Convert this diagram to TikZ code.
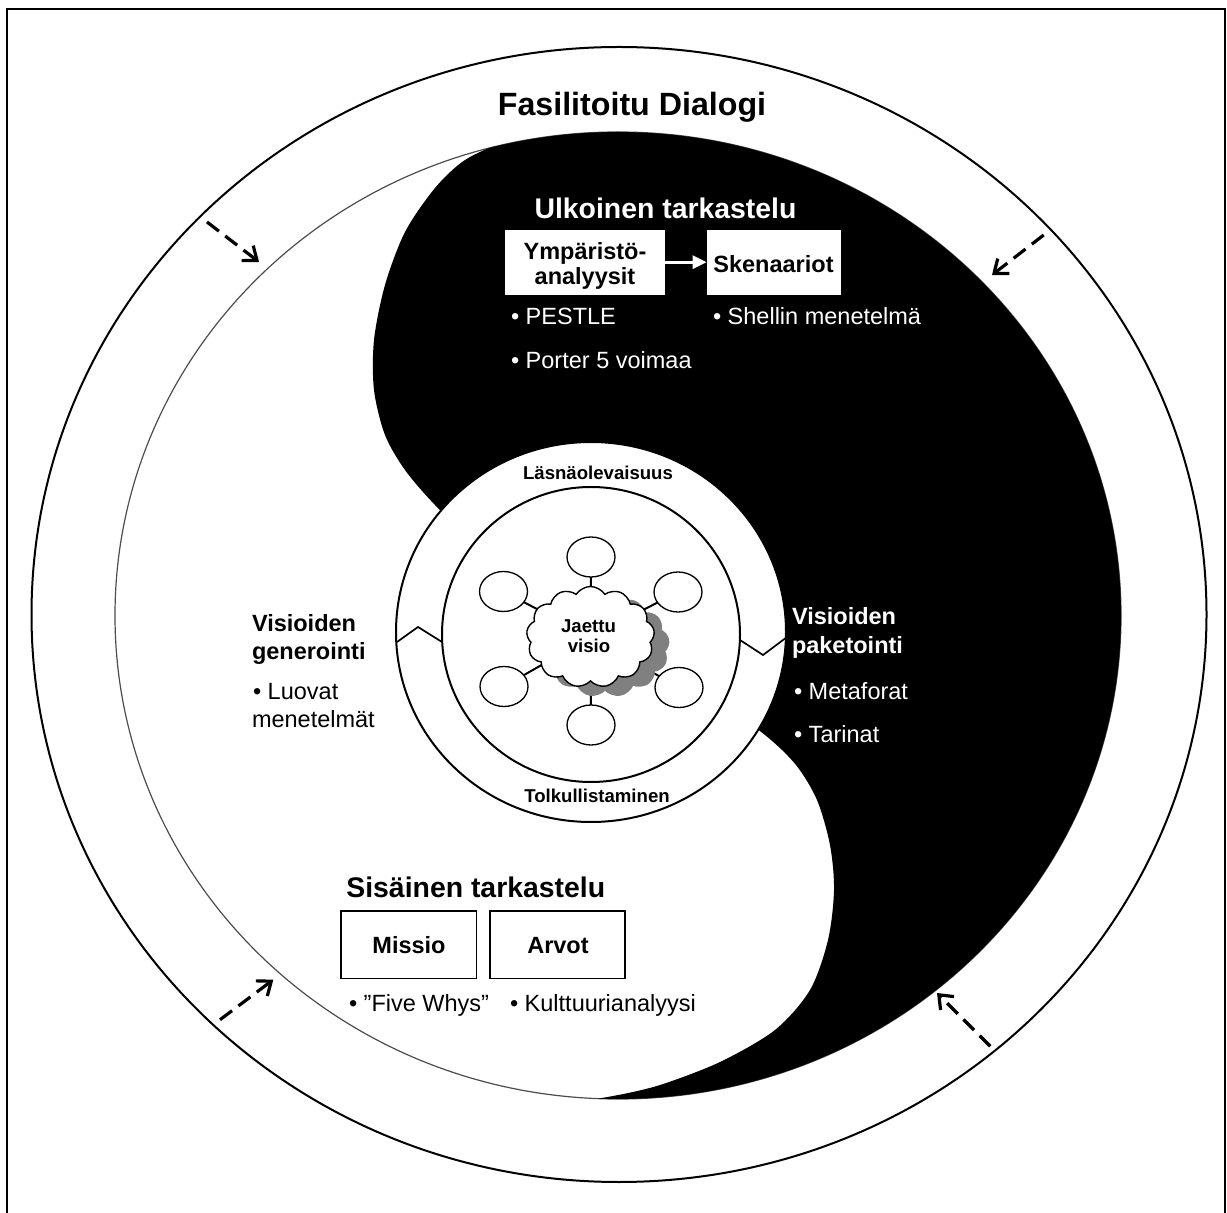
\documentclass[tikz,border=0pt]{standalone}
\usepackage{fontspec}
\setmainfont{Liberation Sans}
\usetikzlibrary{arrows.meta,shapes.geometric,shapes.symbols}
\definecolor{shadowgray}{RGB}{128,128,128}
\begin{document}
\begin{tikzpicture}[x=0.5pt,y=-0.5pt,
  every node/.style={inner sep=0pt,outer sep=0pt},
  titletext/.style={font=\fontsize{16.1pt}{19pt}\selectfont\bfseries},
  headtext/.style={font=\fontsize{14.2pt}{17pt}\selectfont\bfseries},
  boxtext/.style={font=\fontsize{11.75pt}{14pt}\selectfont\bfseries},
  itemtext/.style={font=\fontsize{11.75pt}{14pt}\selectfont},
  ringtext/.style={font=\fontsize{9.3pt}{11pt}\selectfont\bfseries},
  pushin/.style={line width=1.6pt,dash pattern=on 7.5pt off 4pt,-{Straight Barb[length=6pt,width=9.5pt]}},
  whitebox/.style={fill=white,minimum height=32.5pt},
  framedbox/.style={draw,fill=white,line width=0.65pt,minimum width=67.5pt,minimum height=33.8pt},
  member/.style={ellipse,draw,fill=white,line width=0.65pt,minimum width=24pt,minimum height=20pt},
  puffs/.style={cloud,cloud puffs=13,cloud puff arc=115,cloud ignores aspect,minimum width=64pt,minimum height=50.5pt,line width=0.7pt},
]
\useasboundingbox (0,0) rectangle (1227,1213);

% frame, open at the lower edge
\draw[line width=1pt] (7,1230) -- (7,9) -- (1225,9) -- (1225,1230);

% outer dialogue circle
\draw[line width=1pt] (619,614.5) ellipse [x radius=293.75pt, y radius=283.75pt];

% yin-yang: thin outline, then the dark half bounded by the S-curve
\draw[line width=0.6pt,black!70] (618,615.5) ellipse [x radius=251.5pt, y radius=241.75pt];
\begin{scope}
  \clip (618,615.5) ellipse [x radius=251.5pt, y radius=241.75pt];
  \fill[black] plot[smooth] coordinates {
    (560,128) (505,142) (465,160) (435,188) (405,232) (385,285) (374,340)
    (374,390) (385,435) (405,470) (435,505) (480,548) (560,610) (640,660)
    (715,700) (765,735) (796,765) (817,800) (830,845) (834,890) (828,940)
    (810,990) (775,1030) (720,1062) (660,1085) (613,1096) (560,1104)
    (500,1110)}
    -- (1300,1300) -- (1300,-50) -- cycle;
\end{scope}

% dashed arrows pointing inwards
\coordinate (a1s) at (207,222);    \coordinate (a1e) at (259,262);
\coordinate (a2s) at (1043.7,235); \coordinate (a2e) at (992,275);
\coordinate (a3s) at (220,1019.7); \coordinate (a3e) at (273.3,979.7);
\coordinate (a4s) at (990.3,1046.3); \coordinate (a4e) at (937,993);
\draw[pushin] (a1s) -- (a1e);
\draw[pushin] (a2s) -- (a2e);
\draw[pushin] (a3s) -- (a3e);
\draw[pushin] (a4s) -- (a4e);

% central ring
\draw[fill=white,line width=1pt] (591,632) ellipse [x radius=97.5pt, y radius=95pt];
\draw[fill=white,line width=1pt] (591,634.5) ellipse [x radius=74.5pt, y radius=73.75pt];
\draw[line width=0.85pt] (397,642) -- (418,627) -- (442,642);
\draw[line width=0.85pt] (740,640) -- (763,655) -- (787,637);
\node[ringtext,anchor=base] (lasna) at (598,480) {Läsnäolevaisuus};
\node[ringtext,anchor=base] (tolk) at (597,803) {Tolkullistaminen};

% shared vision with its participants
\coordinate (cc) at (590.5,637);
\coordinate (e1) at (591,557);
\coordinate (e2) at (678,592);
\coordinate (e3) at (679,687.5);
\coordinate (e4) at (591,725);
\coordinate (e5) at (504,686.5);
\coordinate (e6) at (503.5,591.5);
\foreach \e in {e1,e2,e3,e4,e5,e6} \draw[line width=1pt] (cc) -- (\e);
\node[puffs,fill=shadowgray,draw=shadowgray] (shadow) at (605,646) {};
\node[puffs,fill=white,draw=black] (cloudnode) at (cc) {};
\node[ringtext,anchor=base] (jaettu) at (588.5,633) {Jaettu};
\node[ringtext,anchor=base] (visio) at (589,653) {visio};
\foreach \e in {e1,e2,e3,e4,e5,e6} \node[member] (n\e) at (\e) {};

% title
\node[titletext,anchor=base] (title) at (632,116) {Fasilitoitu Dialogi};

% external review
\node[headtext,anchor=base,white] (ulk) at (665.5,219) {Ulkoinen tarkastelu};
\node[whitebox,minimum width=80.2pt] (ymp) at (585,262.2) {};
\node[whitebox,minimum width=67.2pt] (sken) at (773.8,262.2) {};
\node[boxtext,anchor=base] (ymp1) at (585,260) {Ympäristö-};
\node[boxtext,anchor=base] (ymp2) at (585,284.5) {analyysit};
\node[boxtext,anchor=base] (skent) at (773.5,272.3) {Skenaariot};
\draw[white,line width=1.5pt,-{Triangle[length=7pt,width=6.5pt]}] (ymp.east) -- (sken.west);
\node[itemtext,anchor=base west,white] (pestle) at (511,325) {• PESTLE};
\node[itemtext,anchor=base west,white] (porter) at (511,368.3) {• Porter 5 voimaa};
\node[itemtext,anchor=base west,white] (shell) at (713,325) {• Shellin menetelmä};

% generating visions
\node[boxtext,anchor=base west] (vg1) at (252,632) {Visioiden};
\node[boxtext,anchor=base west] (vg2) at (252,660) {generointi};
\node[itemtext,anchor=base west] (luo1) at (253,700) {• Luovat};
\node[itemtext,anchor=base west] (luo2) at (252,728) {menetelmät};

% packaging visions
\node[boxtext,anchor=base west,white] (vp1) at (792,625) {Visioiden};
\node[boxtext,anchor=base west,white] (vp2) at (792,653.7) {paketointi};
\node[itemtext,anchor=base west,white] (meta) at (794,700) {• Metaforat};
\node[itemtext,anchor=base west,white] (tari) at (794,742.6) {• Tarinat};

% internal review
\node[headtext,anchor=base] (sis) at (475.8,897.3) {Sisäinen tarkastelu};
\node[framedbox,minimum width=67.75pt] (missio) at (408.75,944.8) {};
\node[framedbox] (arvot) at (557.5,944.8) {};
\node[boxtext,anchor=base] (missiot) at (409,953.8) {Missio};
\node[boxtext,anchor=base] (arvott) at (558,953.8) {Arvot};
\node[itemtext,anchor=base west] (five) at (349,1011.8) {• ”Five Whys”};
\node[itemtext,anchor=base west] (kult) at (510,1011.8) {• Kulttuurianalyysi};
\end{tikzpicture}
\end{document}
